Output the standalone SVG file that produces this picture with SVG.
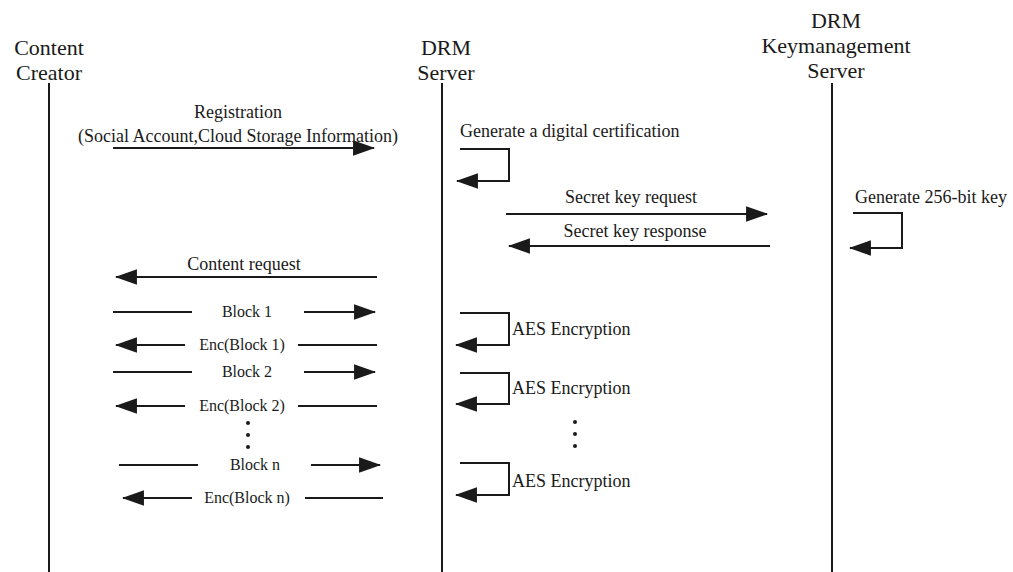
<svg xmlns="http://www.w3.org/2000/svg" width="1013" height="572" viewBox="0 0 1013 572">
<style>
text{font-family:"Liberation Serif","Times New Roman",serif;fill:#1a1a1a}
.h{font-size:22px;text-anchor:middle}
.m{font-size:18px}
.c{text-anchor:middle}
.b{font-size:16px;text-anchor:middle}
.life{stroke:#1a1a1a;stroke-width:2;fill:none}
.ln{stroke:#1a1a1a;stroke-width:2;fill:none}
.ar{marker-end:url(#ah)}
</style>
<defs>
<marker id="ah" markerUnits="userSpaceOnUse" markerWidth="22" markerHeight="16" viewBox="0 0 21 15" refX="20" refY="7.5" orient="auto">
<path d="M0,0 L21,7.5 L0,15 Z" fill="#1a1a1a"/>
</marker>
</defs>
<rect width="1013" height="572" fill="#fff"/>
<g id="creator">
<text class="h" x="49" y="55">Content</text>
<text class="h" x="49" y="80">Creator</text>
<line class="life" x1="49" y1="83" x2="49" y2="572"/>
</g>
<g id="drm-server">
<text class="h" x="446" y="55">DRM</text>
<text class="h" x="446" y="80">Server</text>
<line class="life" x1="442" y1="83" x2="442" y2="572"/>
</g>
<g id="key-server">
<text class="h" x="836" y="28">DRM</text>
<text class="h" x="836" y="53">Keymanagement</text>
<text class="h" x="836" y="78">Server</text>
<line class="life" x1="832" y1="83" x2="832" y2="572"/>
</g>
<g id="labels">
<text class="m c" x="238" y="118">Registration</text>
<text class="m c" x="238" y="142">(Social Account,Cloud Storage Information)</text>
<text class="m" x="460" y="137">Generate a digital certification</text>
<text class="m c" x="631" y="203">Secret key request</text>
<text class="m c" x="635" y="237">Secret key response</text>
<text class="m" x="855" y="203">Generate 256-bit key</text>
<text class="m c" x="244" y="270">Content request</text>
<text class="b" x="247" y="317">Block 1</text>
<text class="b" x="242" y="350">Enc(Block 1)</text>
<text class="b" x="247" y="377">Block 2</text>
<text class="b" x="242" y="411">Enc(Block 2)</text>
<text class="b" x="255" y="470">Block n</text>
<text class="b" x="247" y="503">Enc(Block n)</text>
<text class="m" x="512" y="335">AES Encryption</text>
<text class="m" x="512" y="394">AES Encryption</text>
<text class="m" x="512" y="487">AES Encryption</text>
</g>
<g id="dots" fill="#1a1a1a">
<circle cx="248" cy="423" r="2"/><circle cx="248" cy="435" r="2"/><circle cx="248" cy="447" r="2"/>
<circle cx="575" cy="422" r="2"/><circle cx="575" cy="434" r="2"/><circle cx="575" cy="446" r="2"/>
</g>
<g id="connectors">
<line class="ln ar" x1="113" y1="148" x2="374" y2="148"/>
<path class="ln ar" d="M460,149 H509 V181 H457"/>
<line class="ln ar" x1="506" y1="214" x2="767" y2="214"/>
<line class="ln ar" x1="770" y1="246" x2="509" y2="246"/>
<path class="ln ar" d="M853,213 H902 V248 H850"/>
<line class="ln ar" x1="377" y1="277" x2="116" y2="277"/>
<line class="ln" x1="113" y1="312" x2="192" y2="312"/>
<line class="ln ar" x1="304" y1="312" x2="375" y2="312"/>
<line class="ln ar" x1="185" y1="345" x2="116" y2="345"/>
<line class="ln" x1="298" y1="345" x2="377" y2="345"/>
<line class="ln" x1="113" y1="372" x2="192" y2="372"/>
<line class="ln ar" x1="304" y1="372" x2="375" y2="372"/>
<line class="ln ar" x1="185" y1="406" x2="116" y2="406"/>
<line class="ln" x1="298" y1="406" x2="377" y2="406"/>
<line class="ln" x1="119" y1="465" x2="198" y2="465"/>
<line class="ln ar" x1="311" y1="465" x2="380" y2="465"/>
<line class="ln ar" x1="192" y1="498" x2="123" y2="498"/>
<line class="ln" x1="305" y1="498" x2="383" y2="498"/>
<path class="ln ar" d="M460,313 H509 V345 H456"/>
<path class="ln ar" d="M460,373 H509 V404 H456"/>
<path class="ln ar" d="M460,463 H509 V495 H456"/>
</g>
</svg>
